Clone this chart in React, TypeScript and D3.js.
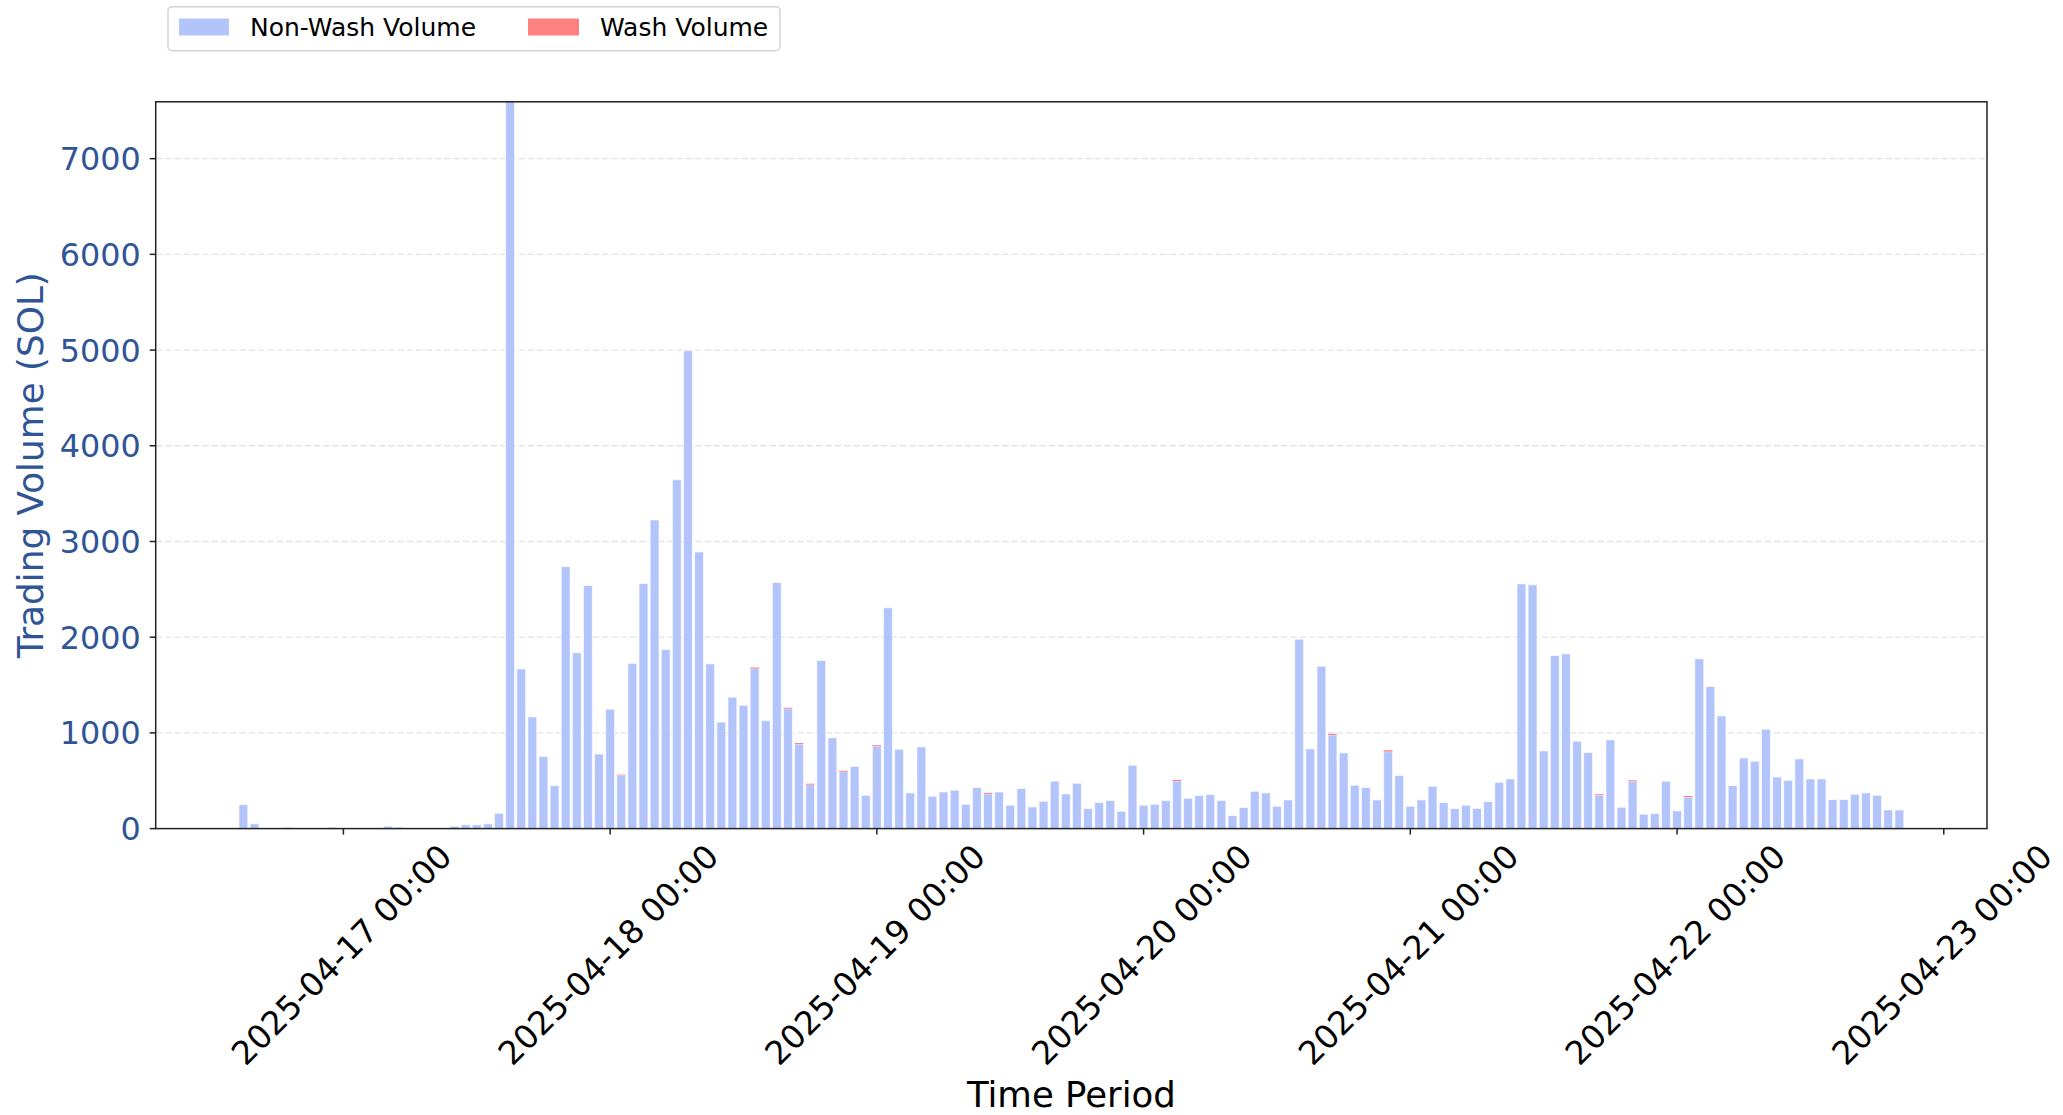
import React from 'react';
import * as d3 from 'd3';

// ---------- DATA (hourly, starting 2025-04-16 15:00 UTC) ----------
const firstHour = '2025-04-16T15:00:00Z';

const nonWashVolume = [
  250, 50, 0, 0, 15, 0, 0, 0, 15,            // 04-16 15:00 .. 23:00
  0, 0, 0, 0, 25, 15, 0, 0, 0, 0, 25, 40,    // 04-17 00:00 .. 11:00
  40, 50, 160, 7600, 1668, 1168, 754, 449, 2736, 1837, 2541, 779, // 12:00 .. 23:00
  1248, 556, 1727, 2561, 3225, 1872, 3645, 4993, 2891, 1722, 1113, 1373, // 04-18 00..11
  1288, 1671, 1128, 2571, 1253, 884, 459, 1757, 949, 594, 650, 348,       // 12..23
  859, 2307, 829, 373, 854, 338, 383, 401, 254, 429, 363, 383,            // 04-19 00..11
  244, 418, 226, 286, 495, 362, 474, 209, 272, 293, 181, 662,             // 12..23
  244, 254, 293, 497, 317, 345, 355, 293, 136, 220, 390, 373,             // 04-20 00..11
  233, 300, 1979, 833, 1697, 978, 791, 453, 429, 300, 804, 554,           // 12..23
  233, 300, 443, 272, 209, 244, 211, 282, 484, 519, 2557, 2547,           // 04-21 00..11
  812, 1808, 1826, 913, 794, 349, 927, 223, 495, 150, 157, 495,           // 12..23
  185, 329, 1774, 1484, 1178, 449, 739, 704, 1038, 540, 505, 728,         // 04-22 00..11
  519, 519, 303, 303, 359, 373, 348, 195, 195,                            // 12..20
];

const washVolume = [
  0, 0, 0, 0, 0, 0, 0, 0, 0,
  0, 0, 0, 0, 0, 0, 0, 0, 0, 0, 0, 0,
  0, 0, 0, 0, 0, 0, 0, 0, 0, 0, 0, 0,
  0, 8, 0, 0, 0, 0, 0, 0, 0, 0, 0, 0,
  0, 12, 0, 0, 10, 10, 10, 0, 0, 10, 0, 0,
  12, 0, 0, 0, 0, 0, 0, 0, 0, 0, 10, 0,
  0, 0, 0, 0, 0, 0, 0, 0, 0, 0, 0, 0,
  0, 0, 0, 12, 0, 0, 0, 0, 0, 0, 0, 0,
  0, 0, 0, 0, 0, 12, 0, 0, 0, 0, 15, 0,
  0, 0, 0, 0, 0, 0, 0, 0, 0, 0, 0, 0,
  0, 0, 0, 0, 0, 10, 0, 0, 10, 0, 0, 0,
  0, 12, 0, 0, 0, 0, 0, 0, 0, 0, 0, 0,
  0, 0, 0, 0, 0, 0, 0, 0, 0,
];

const yTicks = [0, 1000, 2000, 3000, 4000, 5000, 6000, 7000];
const xTickDays = ['2025-04-17', '2025-04-18', '2025-04-19', '2025-04-20', '2025-04-21', '2025-04-22', '2025-04-23'];
const yMax = 7594;
const seriesNames = ['Non-Wash Volume', 'Wash Volume'];
const yAxisTitle = 'Trading Volume (SOL)';
const xAxisTitle = 'Time Period';

// ---------- LAYOUT ----------
const W = 2063;
const H = 1115;
const plot = { left: 155.7, right: 1987, top: 101.8, bottom: 828.6 };
const FONT = 'DejaVu Sans, sans-serif';
const BLUE = '#b3c4fb';
const RED = '#ff8080';
const AXIS_TEXT = '#2f5597';
const HOUR = 3600 * 1000;

export default function App() {
  const t0 = new Date(firstHour).getTime();
  const times = nonWashVolume.map((_, i) => new Date(t0 + i * HOUR));
  const half = 0.4 * HOUR;
  const lo = times[0].getTime() - half;
  const hi = times[times.length - 1].getTime() + half;
  const pad = (hi - lo) * 0.05;

  const x = d3.scaleUtc().domain([new Date(lo - pad), new Date(hi + pad)]).range([plot.left, plot.right]);
  const y = d3.scaleLinear().domain([0, yMax]).range([plot.bottom, plot.top]);

  const bars = times.map((t, i) => {
    const x0 = x(new Date(t.getTime() - half));
    const x1 = x(new Date(t.getTime() + half));
    return { x0, w: x1 - x0, nw: nonWashVolume[i], wv: washVolume[i] };
  });

  const xTicks = xTickDays.map((d) => new Date(d + 'T00:00:00Z'));
  const fmt = d3.utcFormat('%Y-%m-%d %H:%M');

  return (
    <svg width={W} height={H} style={{ position: 'absolute', left: 0, top: 0, background: '#fff' }} fontFamily={FONT}>
      <defs>
        <clipPath id="plotClip">
          <rect x={plot.left} y={plot.top} width={plot.right - plot.left} height={plot.bottom - plot.top} />
        </clipPath>
      </defs>
      <rect x={0} y={0} width={W} height={H} fill="#fff" />

      {/* grid */}
      {yTicks.filter((v) => v > 0).map((v) => (
        <line key={'g' + v} x1={plot.left} x2={plot.right} y1={y(v)} y2={y(v)}
          stroke="#e3e3e3" strokeWidth={1.3} strokeDasharray="6.5,2.8" />
      ))}

      {/* bars */}
      <g clipPath="url(#plotClip)">
        {bars.map((b, i) => (b.nw > 0 ? (
          <rect key={'n' + i} x={b.x0} width={b.w} y={y(b.nw)} height={y(0) - y(b.nw)}
            fill={BLUE} stroke="#ffffff" strokeOpacity={0.7} strokeWidth={0.9} />
        ) : null))}
        {bars.map((b, i) => (b.wv > 0 ? (
          <rect key={'w' + i} x={b.x0} width={b.w} y={y(b.nw + b.wv)} height={y(b.nw) - y(b.nw + b.wv)}
            fill={RED} />
        ) : null))}
      </g>

      {/* spines */}
      <rect x={plot.left} y={plot.top} width={plot.right - plot.left} height={plot.bottom - plot.top}
        fill="none" stroke="#222" strokeWidth={1.5} />

      {/* y ticks */}
      {yTicks.map((v) => (
        <g key={'y' + v}>
          <line x1={plot.left - 6} x2={plot.left} y1={y(v)} y2={y(v)} stroke="#222" strokeWidth={1.5} />
          <text x={plot.left - 15} y={y(v)} dy="0.36em" textAnchor="end" fontSize={31.8} fill={AXIS_TEXT}>{v}</text>
        </g>
      ))}

      {/* x ticks */}
      {xTicks.map((d) => {
        const xx = x(d);
        return (
          <g key={'x' + d.toISOString()}>
            <line x1={xx} x2={xx} y1={plot.bottom} y2={plot.bottom + 6} stroke="#222" strokeWidth={1.5} />
            <text transform={`translate(${xx - 1.5},955) rotate(-45)`} textAnchor="middle" dominantBaseline="central"
              fontSize={32.7} fill="#000">{fmt(d)}</text>
          </g>
        );
      })}

      {/* axis titles */}
      <text x={(plot.left + plot.right) / 2} y={1106.5} textAnchor="middle" fontSize={35.5} fill="#000">{xAxisTitle}</text>
      <text transform={`translate(43,${(plot.top + plot.bottom) / 2}) rotate(-90)`} textAnchor="middle" fontSize={35.8} fill={AXIS_TEXT}>{yAxisTitle}</text>

      {/* legend */}
      <g>
        <rect x={168} y={6.7} width={612} height={44} rx={4} fill="#fff" fillOpacity={0.8} stroke="#d3d3d3" strokeWidth={1.5} />
        <rect x={179} y={18.5} width={50} height={17} fill={BLUE} />
        <text x={250} y={36} fontSize={25} fill="#000">{seriesNames[0]}</text>
        <rect x={528} y={18.5} width={51} height={17} fill={RED} />
        <text x={600} y={36} fontSize={25} fill="#000">{seriesNames[1]}</text>
      </g>
    </svg>
  );
}
